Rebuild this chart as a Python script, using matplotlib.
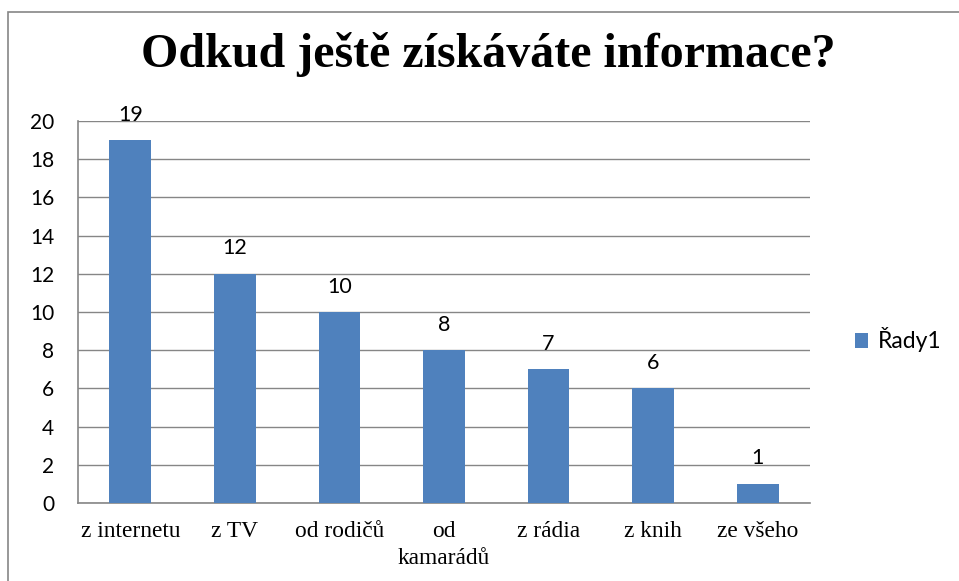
import matplotlib.pyplot as plt
from matplotlib.patches import Rectangle

categories = ['z internetu', 'z TV', 'od rodičů', 'od\nkamarádů', 'z rádia', 'z knih', 'ze všeho']
values = [19, 12, 10, 8, 7, 6, 1]
yticks = [0, 2, 4, 6, 8, 10, 12, 14, 16, 18, 20]
series_name = 'Řady1'

bar_color = '#4F81BD'
grid_color = '#868686'

fig = plt.figure(figsize=(9.59, 5.81), dpi=100)

# outer chart border (runs off the right/bottom edge like the screenshot)
fig.patches.append(Rectangle((8 / 959, -0.05), 1.1, 1 - 12 / 581 + 0.05,
                             transform=fig.transFigure, fill=False,
                             edgecolor=grid_color, linewidth=1.2))

ax = fig.add_axes([78 / 959, 1 - 503 / 581, (810 - 78) / 959, (503 - 121) / 581])

x = range(len(categories))
bars = ax.bar(x, values, width=0.4, color=bar_color, zorder=3, label=series_name)

ax.set_xlim(-0.5, len(categories) - 0.5)
ax.set_ylim(0, 20)
ax.set_yticks(yticks)
ax.set_yticklabels([str(t) for t in yticks], family='Lato', fontsize=15)
ax.set_xticks(list(x))
ax.set_xticklabels(categories, family='Liberation Serif', fontsize=16.8, linespacing=1.4)
ax.tick_params(axis='both', length=0)
ax.tick_params(axis='x', pad=13)
ax.tick_params(axis='y', pad=17)

ax.grid(axis='y', color=grid_color, linewidth=1, zorder=0)
for s in ['top', 'right']:
    ax.spines[s].set_visible(False)
for s in ['left', 'bottom']:
    ax.spines[s].set_color(grid_color)
    ax.spines[s].set_linewidth(1.2)

for b, v in zip(bars, values):
    ax.annotate(str(v), (b.get_x() + b.get_width() / 2, v), xytext=(0, 14),
                textcoords='offset points', ha='center', va='baseline',
                family='Lato', fontsize=15.5)

fig.text(488 / 959, 1 - 67 / 581, 'Odkud ještě získáváte informace?',
         family='Liberation Serif', fontweight='bold', fontsize=34.6,
         ha='center', va='baseline')

fig.legend(handles=[bars], labels=[series_name], loc='center left',
           bbox_to_anchor=(834 / 959, 1 - 340 / 581), frameon=False,
           prop={'family': 'Lato', 'size': 16.5}, handlelength=0.6,
           handleheight=0.6, handletextpad=0.4)

fig.savefig('out.png', dpi=100)
